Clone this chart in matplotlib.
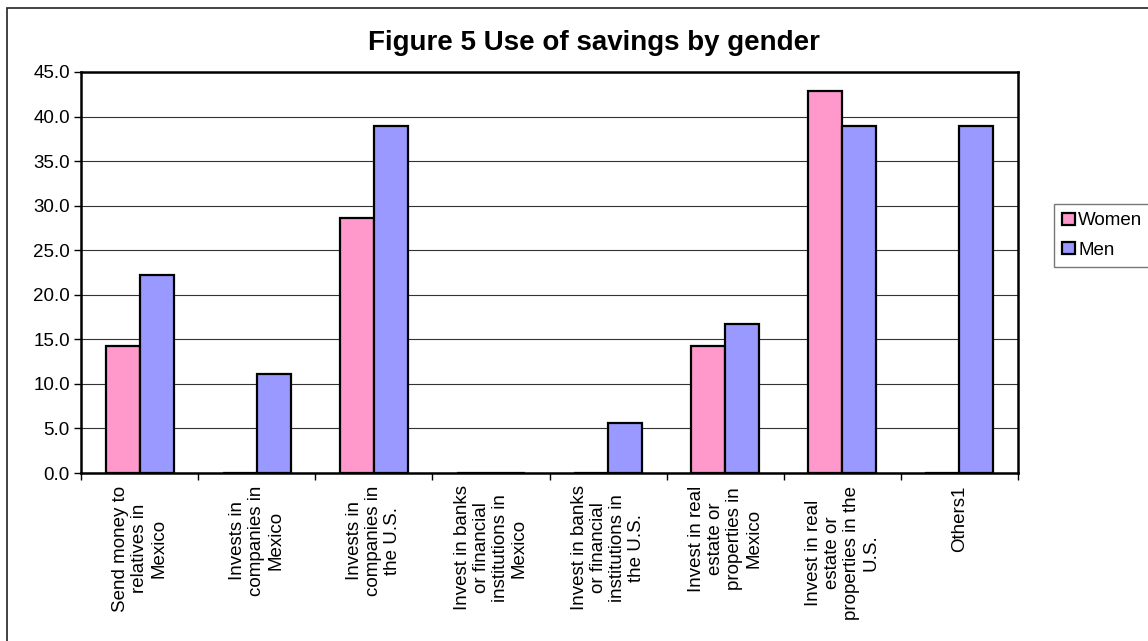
import numpy as np
from matplotlib import pyplot as plt
from matplotlib.patches import Rectangle

plt.rcParams["font.family"] = ["Liberation Sans", "DejaVu Sans"]

categories = [
    "Send money to\nrelatives in\nMexico",
    "Invests in\ncompanies in\nMexico",
    "Invests in\ncompanies in\nthe U.S.",
    "Invest in banks\nor financial\ninstitutions in\nMexico",
    "Invest in banks\nor financial\ninstitutions in\nthe U.S.",
    "Invest in real\nestate or\nproperties in\nMexico",
    "Invest in real\nestate or\nproperties in the\nU.S.",
    "Others1",
]
women = [14.3, 0.0, 28.6, 0.0, 0.0, 14.3, 42.9, 0.0]
men = [22.2, 11.1, 38.9, 0.0, 5.6, 16.7, 38.9, 38.9]
y_ticks = [0, 5, 10, 15, 20, 25, 30, 35, 40, 45]

W, H = 1148, 641
fig = plt.figure(figsize=(W / 100, H / 100), dpi=100)
ax = fig.add_axes([81 / W, 1 - 473 / H, 937 / W, 401 / H])

# outer chart frame (right and bottom edges fall outside the image)
fig.patches.append(Rectangle((7 / W, -0.1), 1.2, 1 - 8 / H + 0.1,
                             transform=fig.transFigure, fill=False,
                             edgecolor="#222222", linewidth=1.2))

ind = np.arange(len(categories))
width = 0.29
ax.bar(ind - width / 2, women, width, color="#FF99CC", edgecolor="black",
       linewidth=1.6, label="Women", zorder=3)
ax.bar(ind + width / 2, men, width, color="#9999FF", edgecolor="black",
       linewidth=1.6, label="Men", zorder=3)

ax.set_xlim(-0.5, len(categories) - 0.5)
ax.set_ylim(0, 45)
ax.set_yticks(y_ticks)
ax.set_yticklabels([f"{v:.1f}" for v in y_ticks], fontsize=13.5)
ax.yaxis.grid(True, color="#333333", linewidth=0.8, zorder=0)

# category boundaries carry the ticks, labels sit at the centres
ax.set_xticks(np.arange(len(categories) + 1) - 0.5)
ax.set_xticklabels([])
ax.set_xticks(ind, minor=True)
ax.set_xticklabels(categories, minor=True, rotation=90, fontsize=13.5,
                   ha="center", va="top", multialignment="center",
                   linespacing=1.15)
ax.tick_params(axis="x", which="minor", length=0, pad=9)
ax.tick_params(axis="x", which="major", length=5, width=1, direction="out")
ax.tick_params(axis="y", length=5, width=1, direction="out", pad=3)

for s in ax.spines.values():
    s.set_linewidth(1.8)

fig.text(0.517, 1 - 43 / H, "Figure 5 Use of savings by gender",
         fontsize=20, fontweight="bold", ha="center", va="center")

leg = ax.legend(loc="upper left", bbox_to_anchor=(1.0384, 0.671),
                fontsize=13.5, frameon=True, fancybox=False,
                edgecolor="#555555", handlelength=0.65, handleheight=0.65,
                handletextpad=0.2, borderpad=0.45, labelspacing=0.65,
                borderaxespad=0)
leg.get_frame().set_linewidth(1)

fig.savefig("out.png", dpi=100)
